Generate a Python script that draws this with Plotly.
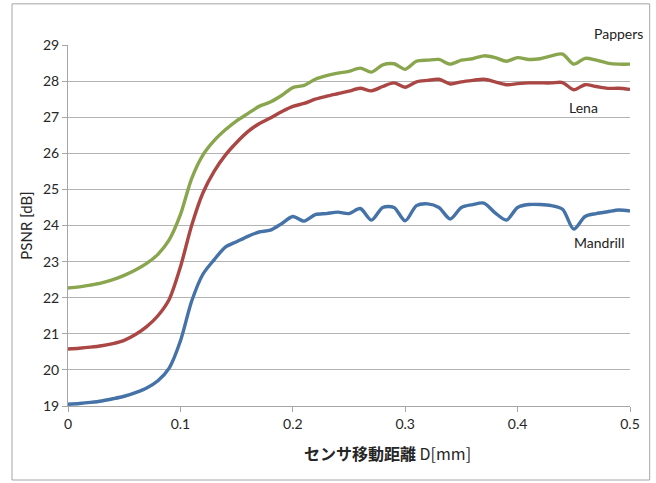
import plotly.graph_objects as go

x_mm = [round(i * 0.01, 2) for i in range(51)]

mandrill = [19.05, 19.07, 19.10, 19.14, 19.20, 19.27, 19.37, 19.50, 19.70, 20.05,
            20.80, 21.90, 22.65, 23.05, 23.40, 23.55, 23.70, 23.82, 23.87, 24.05,
            24.25, 24.12, 24.30, 24.33, 24.37, 24.33, 24.47, 24.15, 24.50, 24.50,
            24.13, 24.55, 24.60, 24.50, 24.18, 24.50, 24.58, 24.62, 24.35, 24.15,
            24.50, 24.58, 24.58, 24.55, 24.45, 23.90, 24.25, 24.33, 24.38, 24.43,
            24.40]

lena = [20.58, 20.60, 20.63, 20.67, 20.73, 20.82, 20.98, 21.20, 21.50, 21.95,
        22.85, 24.00, 24.90, 25.50, 25.95, 26.30, 26.60, 26.82, 26.98, 27.15,
        27.30, 27.38, 27.50, 27.58, 27.65, 27.72, 27.80, 27.73, 27.85, 27.95,
        27.83, 27.98, 28.02, 28.05, 27.92, 27.98, 28.02, 28.05, 27.98, 27.90,
        27.93, 27.95, 27.95, 27.95, 27.96, 27.76, 27.90, 27.85, 27.80, 27.80,
        27.77]

pappers = [22.27, 22.30, 22.35, 22.41, 22.50, 22.62, 22.77, 22.95, 23.20, 23.60,
           24.30, 25.30, 25.95, 26.35, 26.65, 26.90, 27.10, 27.30, 27.42, 27.60,
           27.82, 27.88, 28.05, 28.15, 28.22, 28.27, 28.36, 28.25, 28.45, 28.48,
           28.33, 28.55, 28.58, 28.60, 28.47, 28.58, 28.62, 28.70, 28.65, 28.55,
           28.65, 28.60, 28.62, 28.70, 28.75, 28.47, 28.63, 28.58, 28.50, 28.47,
           28.47]

series_names = ["Mandrill", "Lena", "Pappers"]
series_colors = ["#4572A7", "#AA4643", "#89A54E"]
label_pos = {"Pappers": (0.49, 29.33), "Lena": (0.459, 27.28), "Mandrill": (0.472, 23.53)}

x_ticks = [0, 0.1, 0.2, 0.3, 0.4, 0.5]
x_tick_text = ["0", "0.1", "0.2", "0.3", "0.4", "0.5"]
y_ticks = list(range(19, 30))
y_min, y_max = 19, 29

FONT = "Lato, 'Open Sans', sans-serif"

fig = go.Figure()
for name, ys, col in zip(series_names, [mandrill, lena, pappers], series_colors):
    fig.add_trace(go.Scatter(x=x_mm, y=ys, mode="lines", name=name,
                             line=dict(color=col, width=3.4, shape="spline", smoothing=0.8),
                             showlegend=False))

for name in series_names:
    lx, ly = label_pos[name]
    fig.add_annotation(x=lx, y=(ly - y_min) / (y_max - y_min), yref="paper",
                       text=name, showarrow=False,
                       font=dict(size=14, color="#222222", family=FONT),
                       xanchor="center", yanchor="middle")

# x-axis title (placed slightly right of centre as in the original)
fig.add_annotation(x=0.569, y=-0.130, xref="paper", yref="paper",
                   text="<b>センサ移動距離</b> D[mm]", showarrow=False,
                   font=dict(size=16, color="#262626", family="'Noto Sans CJK JP', " + FONT),
                   xanchor="center", yanchor="middle")

fig.add_shape(type="rect", xref="paper", yref="paper",
              x0=-0.0996, x1=1.035, y0=-0.205, y1=1.114,
              line=dict(color="#A6A6A6", width=1), fillcolor="rgba(0,0,0,0)", layer="above")

fig.update_layout(
    width=656, height=483,
    margin=dict(l=68, r=26, t=45, b=77),
    paper_bgcolor="white", plot_bgcolor="white",
    font=dict(family=FONT, size=13, color="#262626"),
    xaxis=dict(range=[0, 0.5], tickvals=x_ticks, ticktext=x_tick_text,
               showgrid=False, zeroline=False,
               showline=True, linecolor="#A6A6A6", linewidth=1,
               ticks="outside", ticklen=5, tickcolor="#A6A6A6",
               tickfont=dict(size=14)),
    yaxis=dict(range=[y_min, y_max], tickvals=y_ticks,
               showgrid=True, gridcolor="#B3B3B3", gridwidth=1,
               zeroline=False,
               showline=True, linecolor="#A6A6A6", linewidth=1,
               ticks="outside", ticklen=5, tickcolor="#A6A6A6",
               tickfont=dict(size=14),
               title=dict(text="PSNR [dB]", font=dict(size=15), standoff=6)),
)

fig.write_html("out.html", config={"displayModeBar": False},
               post_script="document.body.style.margin='0';document.body.style.overflow='hidden';")
